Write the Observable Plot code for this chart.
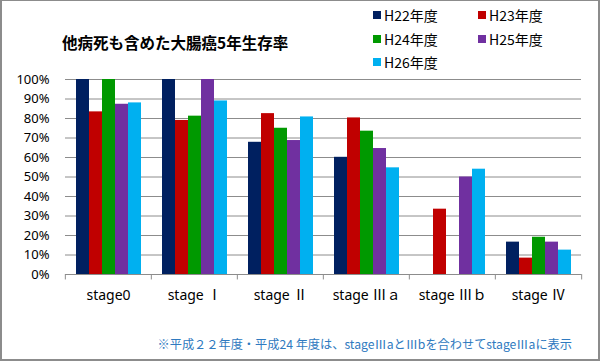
<!DOCTYPE html>
<html><head><meta charset="utf-8">
<script src="https://cdn.jsdelivr.net/npm/d3@7"></script>
<script src="https://cdn.jsdelivr.net/npm/@observablehq/plot@0.6"></script>
<style>
body{margin:0;background:#fff;}
#wrap{position:relative;width:600px;height:361px;overflow:hidden;font-family:"Noto Sans CJK JP","Noto Sans",sans-serif;background:#fff;}
#border{position:absolute;left:0;top:0;width:600px;height:361px;box-sizing:border-box;border:2px solid #8c8c8c;border-top-width:1px;pointer-events:none;z-index:5;}
#title{position:absolute;left:62px;top:35px;font-size:15.5px;font-weight:bold;color:#000;line-height:1;white-space:nowrap;}
.item{position:absolute;font-size:14px;line-height:1;display:flex;align-items:center;color:#000;white-space:nowrap;}
.sw{width:8px;height:8px;margin-right:3px;}
#chart{position:absolute;left:0;top:60px;}
#note{position:absolute;right:28px;top:338px;font-size:12.2px;line-height:1;color:#2f7ac0;white-space:nowrap;}
</style>
</head><body>
<div id="wrap">
  <div id="title">他病死も含めた大腸癌5年生存率</div>
  <div id="legend"></div>
  <div id="chart"></div>
  <div id="note">※平成２２年度・平成24 年度は、stageⅢaとⅢbを合わせてstageⅢaに表示</div>
  <div id="border"></div>
</div>
<script>
const stages = ["stage0", "stage Ⅰ", "stage Ⅱ", "stage Ⅲａ", "stage Ⅲｂ", "stage Ⅳ"];
const years = ["H22年度", "H23年度", "H24年度", "H25年度", "H26年度"];
const colors = ["#002060", "#C00000", "#009900", "#7030A0", "#00B0F0"];
const h22 = [1.00, 1.00, 0.678, 0.601, null, 0.166];
const h23 = [0.834, 0.79, 0.825, 0.803, 0.335, 0.084];
const h24 = [1.00, 0.812, 0.75, 0.735, null, 0.191];
const h25 = [0.873, 1.00, 0.687, 0.646, 0.50, 0.166];
const h26 = [0.88, 0.89, 0.808, 0.547, 0.54, 0.125];
const yTicks = [0, 0.1, 0.2, 0.3, 0.4, 0.5, 0.6, 0.7, 0.8, 0.9, 1.0];

const series = [h22, h23, h24, h25, h26];
const data = stages.flatMap((s, i) => years.map((y, j) => ({stage: s, year: y, value: series[j][i]})))
  .filter(d => d.value != null);

// legend
const legend = document.getElementById("legend");
const legendPos = [[373, 16], [478, 16], [373, 40], [478, 40], [373, 63]];
years.forEach((y, i) => {
  const el = document.createElement("div");
  el.className = "item";
  el.style.left = legendPos[i][0] + "px";
  el.style.top = (legendPos[i][1] - 8) + "px";
  el.innerHTML = `<span class="sw" style="background:${colors[i]}"></span><span>${y}</span>`;
  legend.appendChild(el);
});

const W = 600, H = 260, ML = 64, MR = 18, MT = 19, MB = 46;
const facetW = (W - ML - MR) / stages.length;
const grey = "#8c8c8c";

const chart = Plot.plot({
  width: W, height: H,
  marginLeft: ML, marginRight: MR, marginTop: MT, marginBottom: MB,
  style: {fontFamily: '"Noto Sans","Noto Sans CJK JP",sans-serif', color: "#000", background: "transparent"},
  fx: {domain: stages, padding: 0, label: null, axis: null},
  x: {domain: years, paddingInner: 0, paddingOuter: 0.77, axis: null},
  y: {domain: [0, 1], label: null, axis: null},
  color: {domain: years, range: colors},
  marks: [
    Plot.gridY(yTicks, {stroke: grey, strokeOpacity: 1}),
    Plot.barY(data, {fx: "stage", x: "year", y: "value", fill: "year"}),
    Plot.ruleY([0], {stroke: grey}),
    Plot.ruleX(stages, {fx: d => d, x: null, y1: 0, y2: -0.028, dx: -facetW / 2, stroke: grey}),
    Plot.ruleX(stages.slice(-1), {fx: d => d, x: null, y1: 0, y2: -0.028, dx: facetW / 2, stroke: grey}),
    Plot.axisY(yTicks, {tickFormat: d3.format(".0%"), tickSize: 0, tickPadding: 16, fontSize: 13, label: null}),
    Plot.axisFx({anchor: "bottom", tickSize: 0, tickPadding: 16, fontSize: 14, label: null})
  ]
});
document.getElementById("chart").appendChild(chart);
</script>
</body></html>
